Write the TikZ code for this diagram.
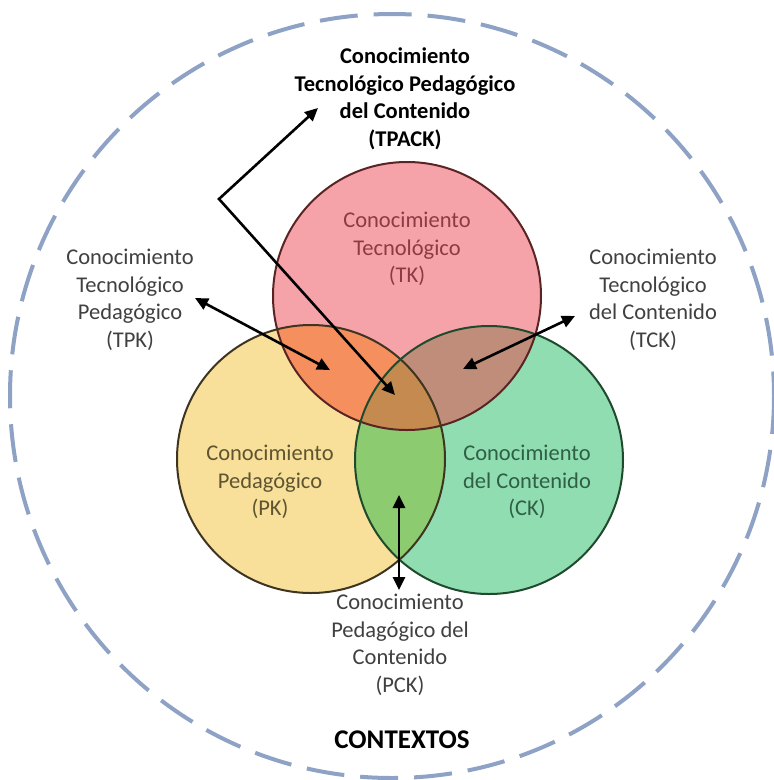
\documentclass[tikz,border=0pt]{standalone}
\usepackage{fontspec}
\setmainfont{Carlito}
\usetikzlibrary{arrows.meta}

\definecolor{tkfill}{HTML}{F5A3A8}
\definecolor{pkfill}{HTML}{F9E09A}
\definecolor{ckfill}{HTML}{8FDDB1}
\definecolor{tpkfill}{HTML}{F58F5E}
\definecolor{tckfill}{HTML}{C08D7A}
\definecolor{pckfill}{HTML}{8CCB70}
\definecolor{tpackfill}{HTML}{C48A50}
\definecolor{tkline}{HTML}{5A2424}
\definecolor{pkline}{HTML}{3E3420}
\definecolor{ckline}{HTML}{1F4A2E}
\definecolor{tktext}{HTML}{8C3B44}
\definecolor{pktext}{HTML}{5E5530}
\definecolor{cktext}{HTML}{2F5F44}
\definecolor{labeltext}{HTML}{404040}
\definecolor{contextline}{HTML}{8EA2C6}

\tikzset{
  lbl/.style={align=center, inner sep=0pt, font=\fontsize{22.5}{27.5}\selectfont},
  sidelbl/.style={lbl, text=labeltext},
  titlelbl/.style={align=center, inner sep=0pt, font=\fontsize{22.5}{27.5}\selectfont\bfseries},
  ring/.style={line width=2pt},
  link/.style={line width=2.6pt, {Triangle[length=13pt,width=12pt]}-{Triangle[length=13pt,width=12pt]}},
  context/.style={line width=4pt, contextline, dash pattern=on 38pt off 16pt}
}

\begin{document}
\begin{tikzpicture}[x=1pt, y=-1pt]
  \useasboundingbox (0,0) rectangle (774,780);
  \fill[white] (0,0) rectangle (774,780);

  % circle centres
  \coordinate (tk) at (407,296);
  \coordinate (pk) at (311,459);
  \coordinate (ck) at (489,460);
  \def\rr{134}

  % outer context ring
  \draw[context] (392,396) circle[radius=382];

  % single circles
  \fill[tkfill] (tk) circle[radius=\rr];
  \fill[pkfill] (pk) circle[radius=\rr];
  \fill[ckfill] (ck) circle[radius=\rr];

  % pairwise overlaps
  \begin{scope}
    \clip (tk) circle[radius=\rr];
    \fill[tpkfill] (pk) circle[radius=\rr];
  \end{scope}
  \begin{scope}
    \clip (tk) circle[radius=\rr];
    \fill[tckfill] (ck) circle[radius=\rr];
  \end{scope}
  \begin{scope}
    \clip (pk) circle[radius=\rr];
    \fill[pckfill] (ck) circle[radius=\rr];
  \end{scope}
  % triple overlap
  \begin{scope}
    \clip (tk) circle[radius=\rr];
    \clip (pk) circle[radius=\rr];
    \fill[tpackfill] (ck) circle[radius=\rr];
  \end{scope}

  % outlines
  \draw[ring, tkline] (tk) circle[radius=\rr];
  \draw[ring, pkline] (pk) circle[radius=\rr];
  \draw[ring, ckline] (ck) circle[radius=\rr];

  % labels inside the circles
  \node[lbl, text=tktext] (tklbl) at (407,249) {Conocimiento\\Tecnológico\\(TK)};
  \node[lbl, text=pktext] (pklbl) at (270,482) {Conocimiento\\Pedagógico\\(PK)};
  \node[lbl, text=cktext] (cklbl) at (527,482) {Conocimiento\\del Contenido\\(CK)};

  % outer labels
  \node[titlelbl] (tpacklbl) at (405,99) {Conocimiento\\Tecnológico Pedagógico\\del Contenido\\(TPACK)};
  \node[sidelbl] (tpklbl) at (130,300) {Conocimiento\\Tecnológico\\Pedagógico\\(TPK)};
  \node[sidelbl] (tcklbl) at (653,300) {Conocimiento\\Tecnológico\\del Contenido\\(TCK)};
  \node[sidelbl] (pcklbl) at (400,645) {Conocimiento\\Pedagógico del\\Contenido\\(PCK)};
  \node[font=\fontsize{27}{32}\selectfont\bfseries, inner sep=0pt] (ctx) at (402,740) {CONTEXTOS};

  % arrow end points
  \coordinate (tpackin) at (395,395);
  \coordinate (tpackbend) at (219,199);
  \coordinate (tpackout) at (318,108);
  \coordinate (tpkin) at (330,370);
  \coordinate (tpkout) at (195,298);
  \coordinate (tckin) at (463,369);
  \coordinate (tckout) at (575,316);
  \coordinate (pckin) at (399,495);
  \coordinate (pckout) at (399,590);

  % connectors
  \draw[link] (tpackin) -- (tpackbend) -- (tpackout);
  \draw[link] (tpkin) -- (tpkout);
  \draw[link] (tckin) -- (tckout);
  \draw[link] (pckin) -- (pckout);
\end{tikzpicture}
\end{document}
